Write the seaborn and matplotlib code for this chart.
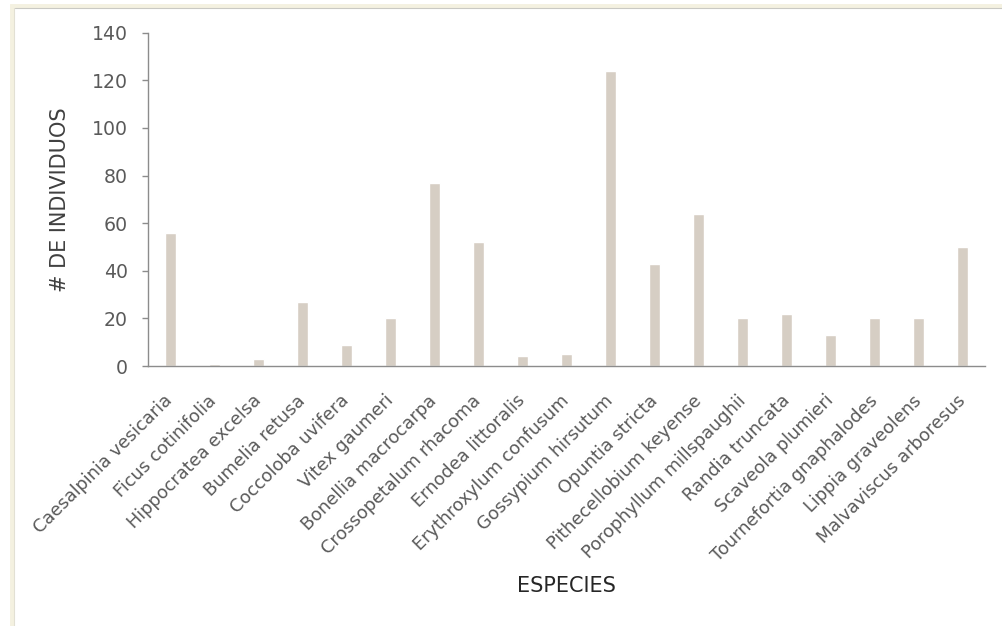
import matplotlib
matplotlib.use("Agg")
import matplotlib.pyplot as plt
import seaborn as sns
import pandas as pd
from matplotlib.patches import Rectangle
from matplotlib.lines import Line2D

species = [
    "Caesalpinia vesicaria", "Ficus cotinifolia", "Hippocratea excelsa",
    "Bumelia retusa", "Coccoloba uvifera", "Vitex gaumeri",
    "Bonellia macrocarpa", "Crossopetalum rhacoma", "Ernodea littoralis",
    "Erythroxylum confusum", "Gossypium hirsutum", "Opuntia stricta",
    "Pithecellobium keyense", "Porophyllum millspaughii", "Randia truncata",
    "Scaveola plumieri", "Tournefortia gnaphalodes", "Lippia graveolens",
    "Malvaviscus arboresus",
]
individuos = [56, 1, 3, 27, 9, 20, 77, 52, 4, 5, 124, 43, 64, 20, 22, 13, 20, 20, 50]
y_ticks = [0, 20, 40, 60, 80, 100, 120, 140]

df = pd.DataFrame({"ESPECIES": species, "# DE INDIVIDUOS": individuos})

sns.set_theme(style="white")
plt.rcParams["font.family"] = ["DejaVu Sans"]

W, H = 1002, 626
fig = plt.figure(figsize=(W / 100, H / 100), dpi=100)
fig.patch.set_facecolor("white")

left, right, top, bottom = 148, 985, 32.7, 366
ax = fig.add_axes([left / W, 1 - bottom / H, (right - left) / W, (bottom - top) / H])

sns.barplot(data=df, x="ESPECIES", y="# DE INDIVIDUOS", color="#d6cec4",
            saturation=1, width=0.25, ax=ax)

ax.set_ylim(0, 140)
ax.set_yticks(y_ticks)
ax.set_xlim(-0.5, len(species) - 0.5)

for s in ["top", "right"]:
    ax.spines[s].set_visible(False)
for s in ["left", "bottom"]:
    ax.spines[s].set_color("#8c8c8c")
    ax.spines[s].set_linewidth(1.0)

ax.tick_params(axis="y", which="both", left=True, length=4.5, width=1.0,
               color="#8c8c8c", labelsize=13.6, labelcolor="#5a5a5a", pad=10)
ax.tick_params(axis="x", bottom=False, labelsize=12.8, labelcolor="#5a5a5a", pad=17)

for lbl in ax.get_xticklabels():
    lbl.set_rotation(45)
    lbl.set_ha("right")
    lbl.set_va("center")
    lbl.set_rotation_mode("anchor")

ax.set_xlabel("ESPECIES", fontsize=15, color="#262626")
ax.set_ylabel("# DE INDIVIDUOS", fontsize=15, color="#404040")
ax.xaxis.set_label_coords(0.5, -(586 - bottom) / (bottom - top))
ax.yaxis.set_label_coords(-(left - 60) / (right - left), 0.5)
ax.xaxis.label.set_va("center")
ax.yaxis.label.set_va("center")

# outer frame (cream band and thin grey inner line)
fig.add_artist(Rectangle((12 / W, -0.05), 1.1, 1 - 5.5 / H + 0.05,
                         transform=fig.transFigure, fill=False,
                         edgecolor="#f4f1e0", linewidth=3.5))
fig.add_artist(Line2D([14.5 / W, 1], [1 - 8.3 / H, 1 - 8.3 / H],
                      transform=fig.transFigure, color="#c9c9c4", linewidth=0.8))
fig.add_artist(Line2D([14.3 / W, 14.3 / W], [0, 1 - 8.3 / H],
                      transform=fig.transFigure, color="#e2e0d4", linewidth=0.8))

fig.savefig("out.png", dpi=100, facecolor="white")
